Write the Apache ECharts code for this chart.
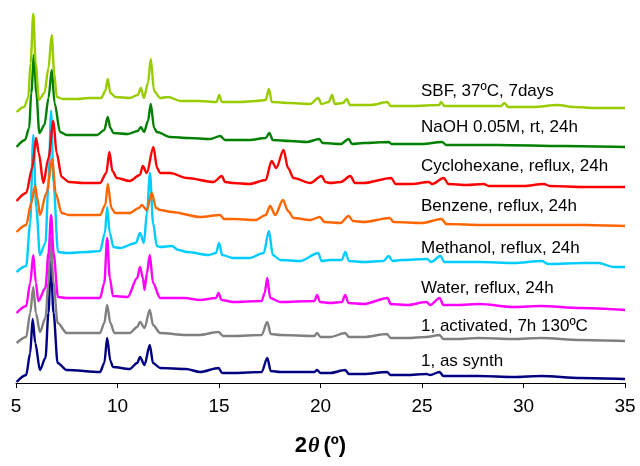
<!DOCTYPE html>
<html>
<head>
<meta charset="utf-8">
<script src="https://cdn.jsdelivr.net/npm/echarts@6/dist/echarts.min.js"></script>
<style>
  html, body { margin: 0; padding: 0; background: #fff; }
  #chart { width: 640px; height: 466px; }
</style>
</head>
<body>
<div id="chart"></div>
<script>
// XRD patterns, [2theta, intensity (a.u., stacked)]
var sampleNames = [
  'SBF, 37ºC, 7days',
  'NaOH 0.05M, rt, 24h',
  'Cyclohexane, reflux, 24h',
  'Benzene, reflux, 24h',
  'Methanol, reflux, 24h',
  'Water, reflux, 24h',
  '1, activated, 7h 130ºC',
  '1, as synth'
]
var sampleColors = ['#99cc00', '#008000', '#ff0000', '#ff6600', '#00ccff', '#ff00ff', '#808080', '#000080']

var sbf = [[5.03,271],[5.4,276],[5.6,285],[5.72,320],[5.85,369],[5.97,320],[6.13,283],[6.4,290],[6.6,315],[6.76,348],[6.88,310],[7.01,286],[7.3,284],[8.0,284],[8.6,285],[9.2,285],[9.4,292],[9.52,304],[9.65,290],[9.9,286],[10.6,285],[11.0,288],[11.15,295],[11.3,285],[11.5,300],[11.64,324],[11.8,292],[12.1,285],[12.5,286],[13.1,282],[14.0,282],[14.88,281],[15.01,288],[15.14,281],[16.0,281],[16.83,282],[17.3,283],[17.46,294],[17.6,281],[18.5,280],[19.5,279],[19.89,285],[20.05,279],[20.4,281],[20.57,288],[20.7,279],[21.1,280],[21.3,284],[21.45,278],[22.5,278],[23.3,281],[23.45,277],[24.5,277],[25.85,278],[25.94,281],[26.1,277],[27.0,277],[28.9,277],[29.06,280],[29.25,276],[30.5,276],[31.66,278],[32.5,276],[33.5,275],[35.0,275]]
var naoh = [[5.03,236],[5.44,243],[5.65,255],[5.75,290],[5.89,328],[6.0,290],[6.15,250],[6.4,258],[6.6,285],[6.76,313],[6.9,280],[7.17,251],[7.5,248],[8.0,248],[9.0,248],[9.35,253],[9.52,266],[9.65,255],[9.8,250],[10.5,249],[11.0,252],[11.15,256],[11.31,251],[11.5,262],[11.64,279],[11.8,255],[11.94,251],[12.6,246],[13.5,245],[14.57,244],[15.06,247],[15.3,243],[16.5,243],[17.3,245],[17.48,250],[17.65,243],[18.5,242],[19.33,241],[19.94,244],[20.1,240],[21.0,239],[21.39,244],[21.55,239],[22.13,240],[23.36,241],[23.5,239],[25.0,239],[25.99,241],[26.2,238],[28.7,238],[31.99,237],[35.0,236]]
var cyclohexane = [[5.03,182],[5.5,190],[5.8,215],[5.99,245],[6.12,230],[6.35,200],[6.6,225],[6.84,262],[7.0,230],[7.25,206],[7.6,201],[8.32,200],[9.14,200],[9.45,210],[9.6,231],[9.75,212],[9.97,205],[10.6,202],[11.1,208],[11.25,217],[11.44,210],[11.77,236],[11.95,215],[12.1,210],[12.59,210],[13.42,205],[14.73,201],[15.14,207],[15.3,201],[15.7,200],[16.5,199],[17.3,203],[17.59,222],[17.82,215],[18.18,233],[18.4,215],[18.67,205],[19.5,200],[20.05,207],[20.25,201],[20.48,200],[21.0,201],[21.47,207],[21.7,200],[22.13,200],[23.48,205],[23.7,199],[24.5,199],[25.33,201],[25.5,199],[26.07,205],[26.3,199],[27.2,198],[28.04,199],[28.3,197],[30.0,197],[31.0,199],[31.3,197],[33.0,196],[35.0,196]]
var benzene = [[5.03,151],[5.5,158],[5.75,180],[5.94,197],[6.05,185],[6.18,168],[6.5,190],[6.79,224],[6.95,190],[7.25,170],[7.6,168],[9.14,168],[9.4,178],[9.52,199],[9.7,175],[9.88,170],[10.6,170],[11.05,175],[11.2,178],[11.44,173],[11.69,190],[11.9,175],[12.1,173],[12.68,171],[14.07,166],[15.06,168],[15.25,164],[15.7,164],[16.8,163],[17.3,168],[17.52,177],[17.77,168],[18.15,183],[18.4,172],[18.67,165],[19.5,163],[19.96,166],[20.2,161],[20.98,160],[21.39,167],[21.6,162],[22.13,161],[23.41,165],[23.6,161],[25.0,160],[25.96,164],[26.2,159],[28.0,158],[31.0,158],[33.0,158],[35.0,157]]
var methanol = [[5.03,111],[5.5,117],[5.7,160],[5.85,248],[6.0,175],[6.18,128],[6.45,140],[6.6,200],[6.73,272],[6.85,200],[7.07,131],[7.5,130],[8.5,131],[9.14,132],[9.38,150],[9.49,176],[9.62,150],[9.8,136],[10.13,135],[10.9,140],[11.11,150],[11.3,140],[11.45,170],[11.6,210],[11.75,160],[11.94,137],[12.1,136],[12.68,137],[13.0,133],[13.42,131],[14.5,128],[14.85,130],[15.01,140],[15.15,128],[15.7,125],[16.5,125],[17.2,130],[17.46,152],[17.65,128],[18.02,123],[19.0,122],[19.89,130],[20.05,122],[20.48,123],[21.05,123],[21.22,131],[21.4,122],[22.13,121],[23.1,122],[23.36,127],[23.55,122],[24.0,123],[25.25,124],[25.45,121],[25.91,127],[26.1,121],[26.73,121],[27.88,121],[29.51,120],[30.92,122],[31.2,119],[33.0,120],[33.7,120],[34.44,116],[35.0,116]]
var water = [[5.03,70],[5.5,77],[5.7,100],[5.85,128],[5.98,100],[6.1,82],[6.45,95],[6.6,130],[6.73,168],[6.85,130],[7.07,86],[7.5,85],[9.14,85],[9.35,100],[9.49,145],[9.62,105],[9.78,87],[10.5,86],[10.97,105],[11.11,116],[11.25,105],[11.33,93],[11.45,110],[11.59,128],[11.75,100],[12.1,85],[13.3,85],[14.07,83],[14.85,85],[14.98,90],[15.12,83],[15.7,81],[17.1,82],[17.25,90],[17.38,105],[17.52,85],[18.02,81],[19.7,82],[19.83,88],[19.98,81],[20.48,80],[21.05,81],[21.22,88],[21.38,80],[22.13,79],[23.31,85],[23.45,79],[24.27,78],[25.22,81],[25.4,78],[25.87,85],[26.05,78],[26.73,78],[27.83,79],[29.51,76],[30.84,77],[32.81,75],[35.0,73]]
var activated = [[5.03,40],[5.5,46],[5.7,70],[5.85,96],[5.98,70],[6.18,51],[6.45,65],[6.6,100],[6.71,146],[6.85,100],[7.05,60],[7.5,50],[9.14,50],[9.35,60],[9.49,78],[9.65,60],[9.85,50],[10.6,50],[10.97,56],[11.11,61],[11.33,55],[11.59,73],[11.75,58],[12.1,50],[13.37,48],[14.0,48],[14.98,51],[15.2,47],[15.7,47],[17.1,48],[17.38,61],[17.55,49],[18.02,48],[19.7,47],[19.83,50],[20.0,46],[20.48,46],[21.22,50],[21.4,46],[22.13,46],[23.28,49],[23.45,45],[24.27,45],[25.22,46],[25.87,48],[26.05,44],[26.73,44],[27.8,45],[29.5,44],[30.87,45],[32.8,43],[35.0,42]]
var asSynth = [[5.03,1],[5.5,8],[5.7,30],[5.82,64],[5.95,40],[6.18,13],[6.45,25],[6.6,70],[6.71,121],[6.85,70],[7.05,20],[7.5,13],[9.14,11],[9.35,20],[9.49,45],[9.65,22],[9.78,16],[10.6,14],[10.97,20],[11.11,26],[11.33,18],[11.59,38],[11.75,20],[12.1,15],[13.37,14],[14.07,11],[14.98,15],[15.15,10],[15.7,10],[17.1,11],[17.38,25],[17.55,12],[18.02,11],[19.7,11],[19.83,13],[20.0,10],[20.48,10],[21.22,13],[21.4,9],[22.13,9],[23.28,11],[23.45,8],[24.27,8],[25.22,9],[25.4,8],[25.87,11],[26.05,7],[26.73,7],[27.8,7],[29.51,6],[30.87,7],[32.81,5],[35.0,4]]

var xTicks = [5, 10, 15, 20, 25, 30, 35]

var allData = [sbf, naoh, cyclohexane, benzene, methanol, water, activated, asSynth]
// label tops (px) for the sample names on the right
var labelY = [93, 129, 168, 208, 250, 290, 328, 363]

var chart = echarts.init(document.getElementById('chart'))

var series = []
for (var i = allData.length - 1; i >= 0; i--) {
  series.push({
    name: sampleNames[i],
    type: 'line',
    data: allData[i],
    showSymbol: false,
    symbol: 'none',
    smooth: 0.3,
    smoothMonotone: 'x',
    animation: false,
    lineStyle: {color: sampleColors[i], width: 2.4},
    itemStyle: {color: sampleColors[i]}
  })
}

var texts = []
for (i = 0; i < sampleNames.length; i++) {
  texts.push({
    type: 'text',
    left: 421,
    top: labelY[i] - 10,
    style: {
      text: sampleNames[i],
      fill: '#000',
      font: '17px "Liberation Sans", Arial, sans-serif'
    }
  })
}

chart.setOption({
  backgroundColor: '#fff',
  animation: false,
  grid: {left: 16, right: 15, top: 0, bottom: 83},
  xAxis: {
    type: 'value',
    min: xTicks[0],
    max: xTicks[xTicks.length - 1],
    interval: 5,
    axisLine: {show: true, lineStyle: {color: '#000', width: 1}},
    axisTick: {show: true, inside: false, length: 5, lineStyle: {color: '#000'}},
    axisLabel: {
      color: '#000',
      fontSize: 19,
      fontFamily: '"Liberation Sans", Arial, sans-serif',
      margin: 14
    },
    splitLine: {show: false},
    name: '{b|2}{t|θ}{b|(º)}',
    nameLocation: 'middle',
    nameGap: 52,
    nameTextStyle: {
      rich: {
        b: {fontSize: 22, fontWeight: 'bold', color: '#000', fontFamily: '"Liberation Sans", Arial, sans-serif'},
        t: {fontSize: 22, fontWeight: 'bold', fontStyle: 'italic', color: '#000', fontFamily: '"Liberation Serif", "Times New Roman", serif', padding: [0, 4, 0, 1]}
      }
    }
  },
  yAxis: {
    type: 'value',
    min: 0,
    max: 383,
    show: false,
    splitLine: {show: false}
  },
  graphic: texts,
  series: series
})
</script>
</body>
</html>
